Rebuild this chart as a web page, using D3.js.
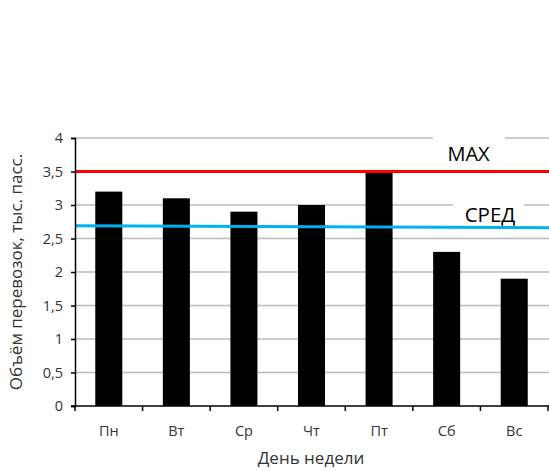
<!DOCTYPE html>
<html>
<head>
<meta charset="utf-8">
<script src="https://cdn.jsdelivr.net/npm/d3@7/dist/d3.min.js"></script>
<style>
  html, body { margin: 0; padding: 0; background: #fff; }
  svg { display: block; font-family: "Open Sans", "Liberation Sans", sans-serif; }
</style>
</head>
<body>
<svg id="chart" width="549" height="471"></svg>
<script>
// Weekly passenger volume, thousand passengers
const days = ["Пн", "Вт", "Ср", "Чт", "Пт", "Сб", "Вс"];
const volumes = [3.2, 3.1, 2.9, 3.0, 3.5, 2.3, 1.9];
const yTicks = [0, 0.5, 1, 1.5, 2, 2.5, 3, 3.5, 4];
const maxLevel = 3.5;
const avgLevel = [2.69, 2.66]; // reference line, left and right ends
const maxLabel = "MAX";
const avgLabel = "СРЕД";
const yTitle = "Объём перевозок, тыс. пасс.";
const xTitle = "День недели";

const svg = d3.select("#chart");
const plotLeft = 75, plotRight = 548, plotTop = 138, plotBottom = 406;
const textColor = "#333";

const x = d3.scaleBand().domain(days).range([plotLeft, plotRight]).paddingInner(0.6).paddingOuter(0.3);
const xEdges = d3.scaleLinear().domain([0, days.length]).range([plotLeft, plotRight]);
const y = d3.scaleLinear().domain([0, 4]).range([plotBottom, plotTop]);

// horizontal gridlines
svg.append("g").selectAll("line").data(yTicks.filter(d => d > 0)).join("line")
  .attr("x1", plotLeft).attr("x2", 549)
  .attr("y1", d => y(d)).attr("y2", d => y(d))
  .attr("stroke", "#bdbdbd").attr("stroke-width", 1.5);

// label backgrounds interrupt the gridlines
function labelBox(x0, x1, y0, y1) {
  svg.append("rect").attr("x", x0).attr("y", y0)
    .attr("width", x1 - x0).attr("height", y1 - y0).attr("fill", "#fff");
}
labelBox(433, 505, 134, 168);
labelBox(453, 524, 196, 226);

// bars
svg.append("g").selectAll("rect").data(volumes).join("rect")
  .attr("x", (d, i) => x(days[i]))
  .attr("y", d => y(d))
  .attr("width", x.bandwidth())
  .attr("height", d => y(0) - y(d))
  .attr("fill", "#000");

// reference lines
svg.append("line").attr("x1", plotLeft).attr("x2", 549)
  .attr("y1", y(maxLevel)).attr("y2", y(maxLevel))
  .attr("stroke", "#ff0000").attr("stroke-width", 3);
svg.append("line").attr("x1", plotLeft).attr("x2", 549)
  .attr("y1", y(avgLevel[0])).attr("y2", y(avgLevel[1]))
  .attr("stroke", "#00b0f0").attr("stroke-width", 3);

// line labels
svg.append("text").attr("x", 468.5).attr("y", 161).attr("text-anchor", "middle")
  .attr("font-size", 20).attr("fill", "#000").text(maxLabel);
svg.append("text").attr("x", 490).attr("y", 222).attr("text-anchor", "middle")
  .attr("font-size", 20.5).attr("fill", "#000").text(avgLabel);

// y axis
const yAxis = svg.append("g").attr("transform", `translate(${plotLeft},0)`)
  .call(d3.axisLeft(y).tickValues(yTicks).tickSize(4).tickPadding(8)
    .tickFormat(d => String(d).replace(".", ",")));
yAxis.select(".domain").attr("stroke", "#000").attr("stroke-width", 1.5);
yAxis.selectAll(".tick line").attr("stroke", "#000").attr("stroke-width", 1.5);
yAxis.selectAll("text").attr("font-size", 14.5).attr("fill", textColor)
  .attr("font-family", "'Open Sans', sans-serif");

// x axis
const xg = svg.append("g");
xg.append("line").attr("x1", plotLeft - 4).attr("x2", 549).attr("y1", plotBottom).attr("y2", plotBottom)
  .attr("stroke", "#000").attr("stroke-width", 1.5);
xg.selectAll("line.edge").data(d3.range(days.length + 1)).join("line")
  .attr("class", "edge")
  .attr("x1", i => xEdges(i)).attr("x2", i => xEdges(i))
  .attr("y1", plotBottom).attr("y2", plotBottom + 5)
  .attr("stroke", "#000").attr("stroke-width", 1.5);
xg.selectAll("text").data(days).join("text")
  .attr("x", d => x(d) + x.bandwidth() / 2)
  .attr("y", 436).attr("text-anchor", "middle")
  .attr("font-size", 14.5).attr("fill", textColor).text(d => d);

// axis titles
svg.append("text").attr("x", 311).attr("y", 464).attr("text-anchor", "middle")
  .attr("font-size", 17).attr("fill", textColor).text(xTitle);
svg.append("text").attr("transform", "translate(22,272) rotate(-90)")
  .attr("text-anchor", "middle").attr("font-size", 17).attr("fill", textColor).text(yTitle);
</script>
</body>
</html>
